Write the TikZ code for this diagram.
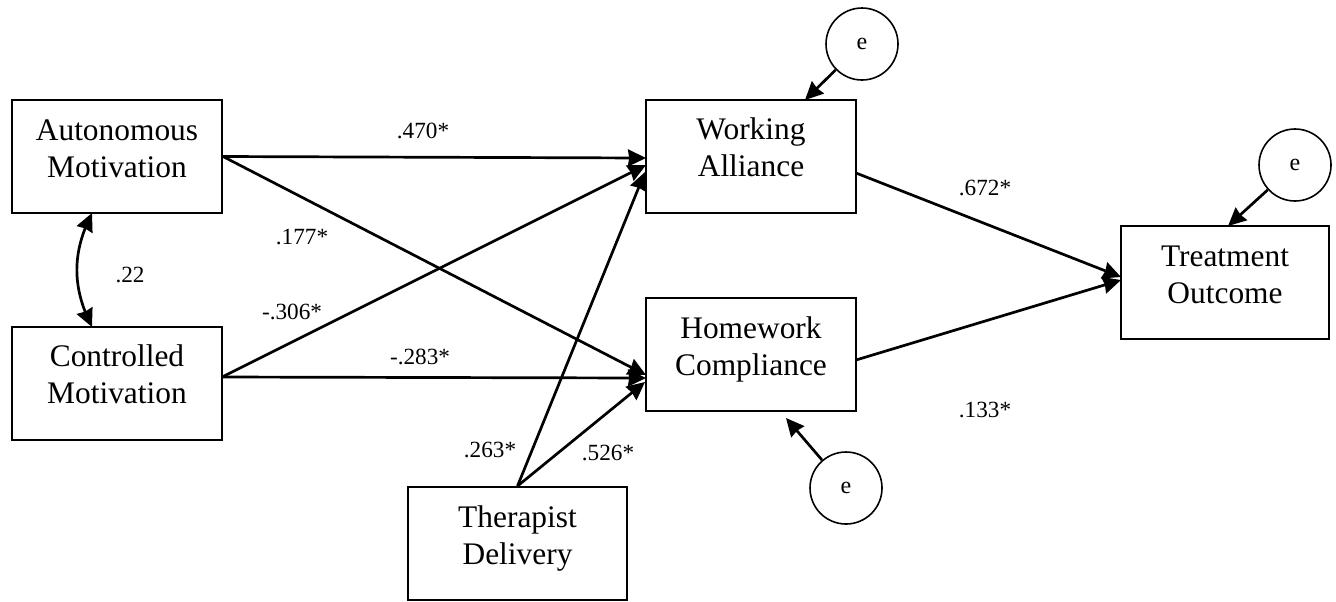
\documentclass[tikz,border=0pt]{standalone}
\usepackage{fontspec}
\setmainfont{Liberation Serif}
\usetikzlibrary{arrows.meta,bending}

\begin{document}
\begin{tikzpicture}[x=0.5pt,y=-0.5pt,>={Stealth[length=9pt,width=8.5pt,inset=0.6pt]},
box/.style={draw,line width=1pt,inner sep=0pt,minimum height=56.5pt,text width=105pt,align=center,
  font=\fontsize{15.7}{18.5}\selectfont,text height=10pt,text depth=26.5pt},
err/.style={draw,circle,line width=0.8pt,minimum size=36pt,inner sep=0pt,font=\fontsize{12}{14}\selectfont},
coef/.style={inner sep=0pt,font=\fontsize{11.6}{13}\selectfont},
arr/.style={->,line width=1.35pt}]
\useasboundingbox (0,0) rectangle (1336,601);
\node[box](am) at (117,156.5) {Autonomous\\Motivation};
\node[box](cm) at (117,383) {Controlled\\Motivation};
\node[box](wa) at (751,156) {Working\\Alliance};
\node[box](hc) at (751,354.5) {Homework\\Compliance};
\node[box,text width=104pt](to) at (1225,282.5) {Treatment\\Outcome};
\node[box,text width=109.5pt](td) at (517.5,543.5) {Therapist\\Delivery};
\node[err](ewa) at (862,44) {e};
\node[err](eto) at (1295,165) {e};
\node[err](ehc) at (846,488) {e};
\coordinate(cm-out) at (222,377);
\coordinate(wa-a) at (646,158);
\coordinate(wa-b) at (646,165);
\coordinate(wa-c) at (645,172);
\coordinate(hc-a) at (646,375);
\coordinate(hc-b) at (646,378);
\coordinate(hc-c) at (645,382);
\coordinate(wa-out) at (856,173);
\coordinate(hc-out) at (856,360);
\coordinate(to-a) at (1121,277);
\coordinate(to-b) at (1121,280);
\coordinate(wa-e) at (805,100);
\coordinate(to-e) at (1228,226);
\coordinate(hc-e) at (786,418);
\coordinate(am-b) at (92,213);
\coordinate(cm-t) at (92,327);
\draw[arr](am.east)--(wa-a);
\draw[arr](am.east)--(hc-a);
\draw[arr](cm-out)--(wa-b);
\draw[arr](cm-out)--(hc-b);
\draw[arr](td.north)--(wa-c);
\draw[arr](td.north)--(hc-c);
\draw[arr](wa-out)--(to-a);
\draw[arr](hc-out)--(to-b);
\draw[arr](ewa)--(wa-e);
\draw[arr](eto)--(to-e);
\draw[arr](ehc)--(hc-e);
\draw[<->,line width=1.35pt](am-b) to[bend right=27] (cm-t);
\node[coef](l1) at (423,131) {.470*};
\node[coef](l2) at (302,237) {.177*};
\node[coef](l3) at (292,312) {-.306*};
\node[coef](l4) at (420,357) {-.283*};
\node[coef](l5) at (130,275) {.22};
\node[coef](l6) at (490,450) {.263*};
\node[coef](l7) at (608,453) {.526*};
\node[coef](l8) at (985,188) {.672*};
\node[coef](l9) at (985,410) {.133*};
\end{tikzpicture}
\end{document}
